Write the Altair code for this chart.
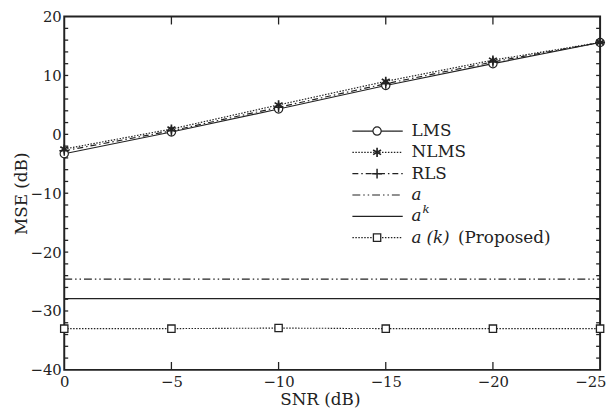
import altair as alt
import pandas as pd

# ---------------- data ----------------
snr = [0, -5, -10, -15, -20, -25]
lms = [-3.3, 0.4, 4.3, 8.3, 12.0, 15.6]
nlms = [-2.5, 0.9, 5.0, 9.0, 12.6, 15.6]
rls = [-2.8, 0.6, 4.6, 8.6, 12.3, 15.6]
snr_ends = [0, -25]
a_mse = [-24.6, -24.6]
ak_mse = [-27.9, -27.9]
prop = [-33.0, -33.0, -32.9, -33.0, -33.0, -33.0]

x_ticks = [0, -5, -10, -15, -20, -25]
x_inner = [-5, -10, -15, -20]
y_ticks = [-40, -30, -20, -10, 0, 10, 20]
y_minor = list(range(-38, 20, 2))

legend_names = ["LMS", "NLMS", "RLS", "a", "ak", "prop"]

# ---------------- styling ----------------
FONT = "DejaVu Serif"
INK = "#222222"
W, H = 543, 358

asterisk = "M0,-1L0,1M-0.87,-0.5L0.87,0.5M-0.87,0.5L0.87,-0.5"
plus = "M0,-1L0,1M-1,0L1,0"

DASH = {
    "LMS": [1, 0],
    "NLMS": [1.5, 1.5],
    "RLS": [6, 3, 1.5, 3],
    "a": [8, 3, 1.5, 3, 1.5, 3],
    "ak": [1, 0],
    "prop": [1.5, 1.5],
}

xscale = alt.Scale(domain=[0, -25], nice=False, zero=False)
yscale = alt.Scale(domain=[-40, 20], nice=False, zero=False)


def df_of(xs, ys):
    return pd.DataFrame({"snr": xs, "mse": ys})


def xy(chart, xaxis=None, yaxis=None):
    return chart.encode(
        x=alt.X("snr:Q", scale=xscale, axis=xaxis),
        y=alt.Y("mse:Q", scale=yscale, axis=yaxis),
    )


main_x_axis = alt.Axis(
    values=x_ticks, ticks=False, domain=False, grid=False,
    labelFont=FONT, labelFontSize=15, labelColor=INK, labelPadding=5,
    labelFlush=False,
    labelAlign=alt.expr("datum.value == -25 ? 'right' : 'center'"),
    labelOffset=alt.expr("datum.value == -25 ? 6 : 0"),
    title="SNR (dB)", titleFont=FONT, titleFontSize=17, titleFontWeight="normal",
    titleColor=INK, titlePadding=2, titleX=259,
)
main_y_axis = alt.Axis(
    values=y_ticks, ticks=False, domain=False, grid=False,
    labelFont=FONT, labelFontSize=15, labelColor=INK, labelPadding=3,
    title="MSE (dB)", titleFont=FONT, titleFontSize=17, titleFontWeight="normal",
    titleColor=INK, titleBaseline="middle", titleX=-43, titleY=H / 2,
)

layers = []

layers.append(xy(alt.Chart(df_of(snr, lms)).mark_line(color=INK, strokeWidth=1.2),
                 main_x_axis, main_y_axis))
layers.append(xy(alt.Chart(df_of(snr, nlms)).mark_line(color=INK, strokeWidth=1.2,
                                                       strokeDash=DASH["NLMS"])))
layers.append(xy(alt.Chart(df_of(snr, rls)).mark_line(color=INK, strokeWidth=1.2,
                                                      strokeDash=DASH["RLS"])))
layers.append(xy(alt.Chart(df_of(snr_ends, a_mse)).mark_line(color=INK, strokeWidth=1.2,
                                                             strokeDash=DASH["a"])))
layers.append(xy(alt.Chart(df_of(snr_ends, ak_mse)).mark_line(color=INK, strokeWidth=1.3)))
layers.append(xy(alt.Chart(df_of(snr, prop)).mark_line(color=INK, strokeWidth=1.1,
                                                       strokeDash=DASH["prop"])))

layers.append(xy(alt.Chart(df_of(snr, lms)).mark_point(
    shape="circle", filled=False, fill="white", fillOpacity=1, stroke=INK,
    strokeWidth=1.2, size=70, opacity=1)))
layers.append(xy(alt.Chart(df_of(snr, nlms)).mark_point(
    shape=asterisk, filled=False, stroke=INK, strokeWidth=1.7, size=85, opacity=1)))
layers.append(xy(alt.Chart(df_of(snr, rls)).mark_point(
    shape=plus, filled=False, stroke=INK, strokeWidth=1.5, size=100, opacity=1)))
layers.append(xy(alt.Chart(df_of(snr, prop)).mark_point(
    shape="square", filled=False, fill="white", fillOpacity=1, stroke=INK,
    strokeWidth=1.3, size=55, opacity=1)))

# inward ticks
xt = pd.DataFrame({"snr": x_inner})
yt = pd.DataFrame({"mse": y_minor})
tick_style = dict(color=INK, strokeWidth=1.3)
layers.append(alt.Chart(xt).mark_rule(**tick_style).encode(
    x=alt.X("snr:Q", scale=xscale, axis=None), y=alt.value(H), y2=alt.value(H - 8)))
layers.append(alt.Chart(xt).mark_rule(**tick_style).encode(
    x=alt.X("snr:Q", scale=xscale, axis=None), y=alt.value(0), y2=alt.value(8)))
layers.append(alt.Chart(yt).mark_rule(**tick_style).encode(
    y=alt.Y("mse:Q", scale=yscale, axis=None), x=alt.value(0), x2=alt.value(4)))
layers.append(alt.Chart(yt).mark_rule(**tick_style).encode(
    y=alt.Y("mse:Q", scale=yscale, axis=None), x=alt.value(W - 4), x2=alt.value(W)))

# ---------------- hand-made legend ----------------
LX0, LX1, LXM, LTX = 292, 343, 317, 352
ROW0, STEP = 116, 21.6
one = pd.DataFrame({"k": [0]})
markers = {
    "LMS": dict(shape="circle", fill="white", size=70, strokeWidth=1.2),
    "NLMS": dict(shape=asterisk, fill="transparent", size=85, strokeWidth=1.7),
    "RLS": dict(shape=plus, fill="transparent", size=100, strokeWidth=1.5),
    "prop": dict(shape="square", fill="white", size=55, strokeWidth=1.3),
}
for i, name in enumerate(legend_names):
    yy = ROW0 + i * STEP
    layers.append(alt.Chart(one).mark_rule(
        color=INK, strokeWidth=1.2, strokeDash=DASH[name]).encode(
        x=alt.value(LX0), x2=alt.value(LX1), y=alt.value(yy)))
    if name in markers:
        m = markers[name]
        layers.append(alt.Chart(one).mark_point(
            shape=m["shape"], filled=False, fill=m["fill"], fillOpacity=1,
            stroke=INK, strokeWidth=m["strokeWidth"], size=m["size"], opacity=1
        ).encode(x=alt.value(LXM), y=alt.value(yy)))


def text(label, x, y, italic=False, size=17):
    kw = dict(align="left", baseline="middle", font=FONT, fontSize=size, color=INK)
    if italic:
        kw["fontStyle"] = "italic"
    return alt.Chart(one).mark_text(**kw).encode(
        x=alt.value(x), y=alt.value(y), text=alt.value(label))


layers.append(text("LMS", LTX, ROW0 + 0 * STEP))
layers.append(text("NLMS", LTX, ROW0 + 1 * STEP))
layers.append(text("RLS", LTX, ROW0 + 2 * STEP))
layers.append(text("a", LTX, ROW0 + 3 * STEP, italic=True))
layers.append(text("a", LTX, ROW0 + 4 * STEP, italic=True))
layers.append(text("k", LTX + 11, ROW0 + 4 * STEP - 7, italic=True, size=12))
layers.append(text("a", LTX, ROW0 + 5 * STEP, italic=True))
layers.append(text("(k)", LTX + 15, ROW0 + 5 * STEP, italic=True))
layers.append(text("(Proposed)", LTX + 47, ROW0 + 5 * STEP))

chart = alt.layer(*layers).resolve_scale(x="shared", y="shared").resolve_axis(
    x="independent", y="independent"
).properties(
    width=W, height=H,
    autosize=alt.AutoSizeParams(type="none"),
    padding={"left": 57, "top": 6, "right": 7, "bottom": 40},
    background="white",
).configure_view(stroke=INK, strokeWidth=2)

chart.save("out.html", embed_options={"renderer": "svg", "actions": False})
